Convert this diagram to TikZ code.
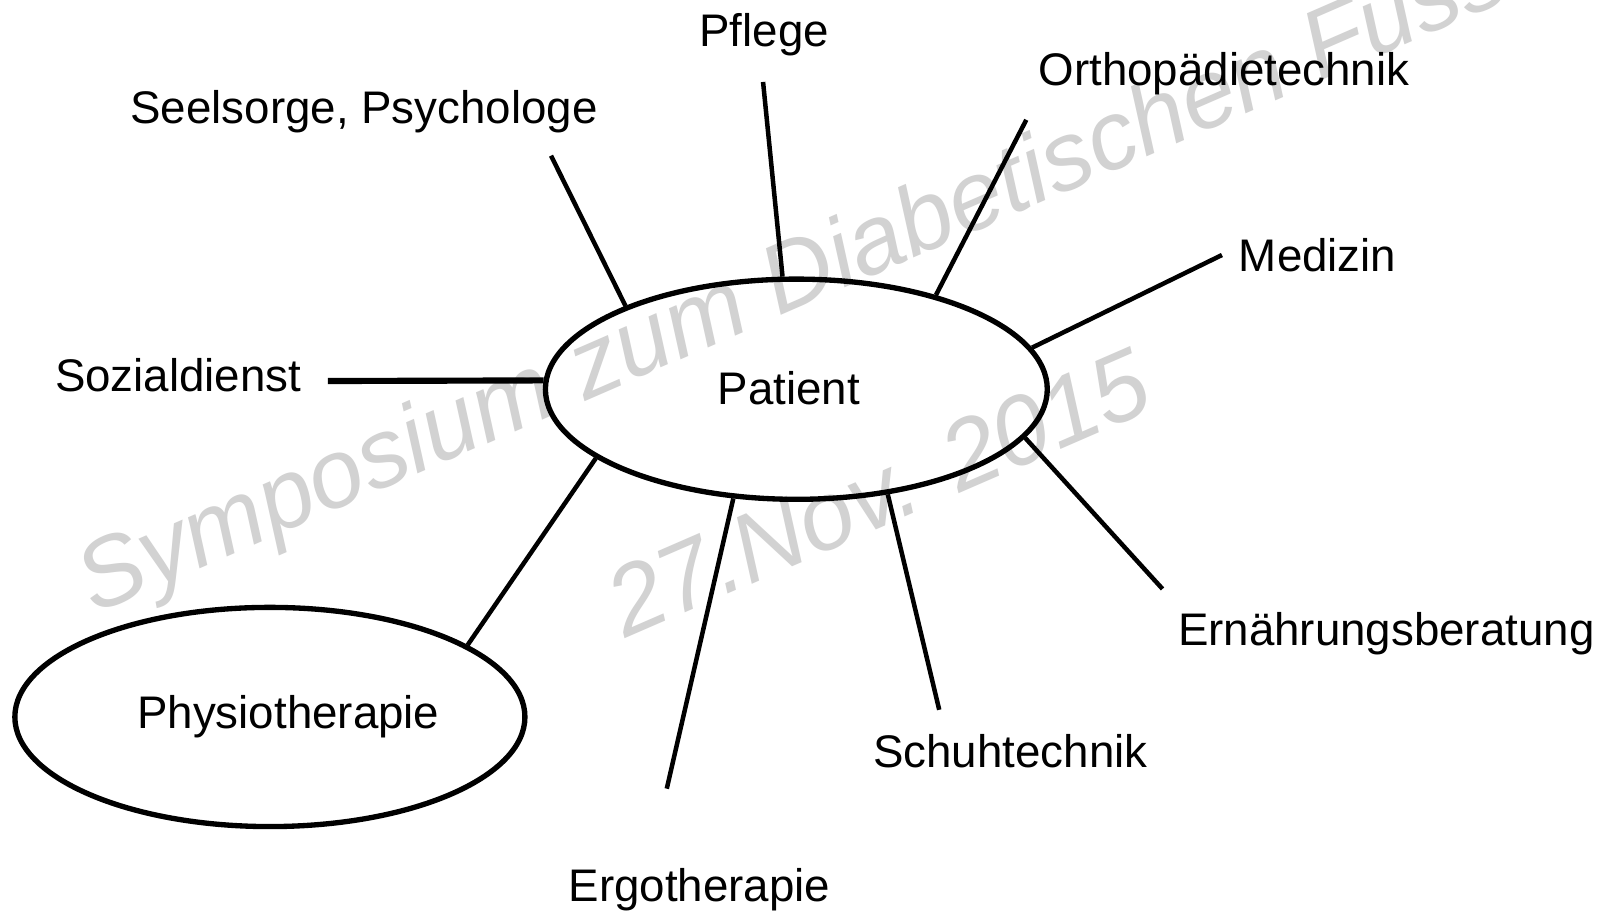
\documentclass[tikz,border=0pt]{standalone}
\usepackage{fontspec}
\setmainfont{Liberation Sans}
\usetikzlibrary{shapes.geometric}
\definecolor{wmgray}{RGB}{210,210,210}
\tikzset{
  lbl/.style={inner sep=0pt, anchor=base, font=\fontsize{22.3}{26}\selectfont},
  bubble/.style={ellipse, draw, line width=2.6pt, inner sep=0pt},
  spoke/.style={line width=2.2pt},
  wm/.style={text=wmgray, inner sep=0pt, anchor=base west, font=\fontsize{47.5}{56}\selectfont\itshape}
}
\begin{document}
\begin{tikzpicture}[x=0.5pt, y=-0.5pt]
\useasboundingbox (0,0) rectangle (1568,890);
\fill[white] (0,0) rectangle (1568,890);
% watermark
\node[wm, rotate=23.5] (wm1) at (92,600) {Symposium zum Diabetischen Fuss};
\node[wm, rotate=23.5] (wm2) at (610,624) {27.Nov. 2015};
% central nodes
\node[bubble, minimum width=245pt, minimum height=107.5pt] (P) at (777.5,380) {};
\node[bubble, minimum width=249pt, minimum height=107pt] (PT) at (263.5,700) {};
\node[lbl] (tP) at (770,395) {Patient};
\node[lbl] (tPT) at (281.5,711) {Physiotherapie};
% labels
\node[lbl] (pfl) at (746,45) {Pflege};
\node[lbl] (ort) at (1195,83) {Orthopädietechnik};
\node[lbl] (see) at (355.5,121) {Seelsorge, Psychologe};
\node[lbl] (med) at (1286.5,265) {Medizin};
\node[lbl] (soz) at (174,382) {Sozialdienst};
\node[lbl] (ern) at (1353.5,630) {Ernährungsberatung};
\node[lbl] (sch) at (986.5,749) {Schuhtechnik};
\node[lbl] (erg) at (683,880) {Ergotherapie};
% free ends of spokes
\coordinate (cSee) at (538,152);
\coordinate (cPfl) at (745,80);
\coordinate (cOrt) at (1002,117);
\coordinate (cMed) at (1193,249);
\coordinate (cSoz) at (320,372);
\coordinate (cErn) at (1135,575);
\coordinate (cSch) at (917,693);
\coordinate (cErg) at (651,770);
% spokes
\draw[spoke] (cSee) -- (P.154);
\draw[spoke] (cPfl) -- (P.97.5);
\draw[spoke] (cOrt) -- (P.34.6);
\draw[spoke] (cMed) -- (P.10);
\draw[spoke, line width=3pt] (cSoz) -- (P.178.2);
\draw[spoke] (cErn) -- (P.-12.4);
\draw[spoke] (cSch) -- (P.-49.2);
\draw[spoke] (cErg) -- (P.-120.1);
\draw[spoke] (PT.20.4) -- (P.-161.4);
\end{tikzpicture}
\end{document}
